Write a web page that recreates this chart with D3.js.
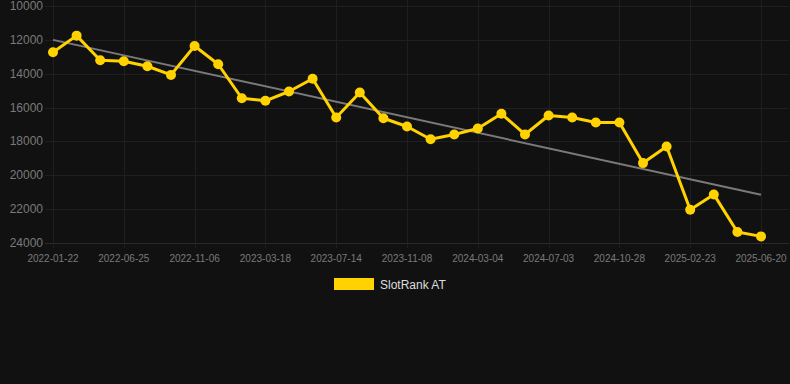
<!DOCTYPE html>
<html>
<head>
<meta charset="utf-8">
<script src="https://cdn.jsdelivr.net/npm/d3@7"></script>
<style>
  html, body { margin: 0; padding: 0; background: #111111; }
  svg { display: block; font-family: "Liberation Sans", Arial, sans-serif; }
</style>
</head>
<body>
<div id="chart"></div>
<script>
// ranks, one every ~6 weeks; only every 3rd date is labelled on the axis
const tickLabels = ['2022-01-22', '2022-06-25', '2022-11-06', '2023-03-18', '2023-07-14',
  '2023-11-08', '2024-03-04', '2024-07-03', '2024-10-28', '2025-02-23', '2025-06-20'];
const rankValues = [12730, 11750, 13200, 13260, 13560, 14070, 12360, 13440, 15450, 15600,
  15050, 14300, 16590, 15110, 16630, 17120, 17870, 17590, 17240, 16370,
  17590, 16470, 16590, 16880, 16880, 19280, 18300, 22040, 21130, 23350, 23610];
const trendValues = [12000, 21150];
const yTicks = [10000, 12000, 14000, 16000, 18000, 20000, 22000, 24000];
const seriesName = 'SlotRank AT';

const width = 790;
const height = 384;
const plot = { left: 45, right: 789, top: 6, bottom: 243 };

const svg = d3.select('#chart')
  .append('svg')
  .attr('width', width)
  .attr('height', height);

svg.append('rect')
  .attr('width', width)
  .attr('height', height)
  .attr('fill', '#111111');

const x = d3.scaleLinear()
  .domain([0, rankValues.length - 1])
  .range([53, 761]);

// rank axis runs downward: best rank on top
const y = d3.scaleLinear()
  .domain([10000, 24000])
  .range([plot.top, plot.bottom]);

const tickIndex = tickLabels.map((d, i) => i * 3);

// grid
svg.append('g')
  .selectAll('line')
  .data(yTicks)
  .enter()
  .append('line')
  .attr('x1', plot.left)
  .attr('x2', plot.right)
  .attr('y1', d => Math.round(y(d)) + 0.5)
  .attr('y2', d => Math.round(y(d)) + 0.5)
  .attr('stroke', d => d === 24000 ? '#2a2a2a' : '#1f1f1f')
  .attr('stroke-width', 1);

svg.append('g')
  .selectAll('line')
  .data(tickIndex)
  .enter()
  .append('line')
  .attr('x1', d => Math.round(x(d)) + 0.5)
  .attr('x2', d => Math.round(x(d)) + 0.5)
  .attr('y1', 0)
  .attr('y2', plot.bottom + 5)
  .attr('stroke', '#1f1f1f')
  .attr('stroke-width', 1);

// y labels
svg.append('g')
  .selectAll('text')
  .data(yTicks)
  .enter()
  .append('text')
  .attr('x', 43)
  .attr('y', d => y(d) + 4)
  .attr('text-anchor', 'end')
  .attr('fill', '#7a7a7a')
  .style('font-size', '12px')
  .text(d => d);

// x labels
svg.append('g')
  .selectAll('text')
  .data(tickLabels)
  .enter()
  .append('text')
  .attr('x', (d, i) => x(tickIndex[i]))
  .attr('y', 262)
  .attr('text-anchor', 'middle')
  .attr('fill', '#7a7a7a')
  .style('font-size', '10px')
  .text(d => d);

// trend line
svg.append('line')
  .attr('x1', x(0))
  .attr('x2', x(rankValues.length - 1))
  .attr('y1', y(trendValues[0]))
  .attr('y2', y(trendValues[1]))
  .attr('stroke', '#7a7a7a')
  .attr('stroke-width', 2);

const line = d3.line()
  .x((d, i) => x(i))
  .y(d => y(d));

svg.append('path')
  .datum(rankValues)
  .attr('d', line)
  .attr('fill', 'none')
  .attr('stroke', '#ffd200')
  .attr('stroke-width', 3)
  .attr('stroke-linejoin', 'round');

svg.append('g')
  .selectAll('circle')
  .data(rankValues)
  .enter()
  .append('circle')
  .attr('cx', (d, i) => x(i))
  .attr('cy', d => y(d))
  .attr('r', 5)
  .attr('fill', '#ffd200');

// legend
const legend = svg.append('g')
  .attr('transform', 'translate(334, 278)');

legend.append('rect')
  .attr('width', 40)
  .attr('height', 12)
  .attr('fill', '#ffd200');

legend.append('text')
  .attr('x', 46)
  .attr('y', 11)
  .attr('fill', '#dddddd')
  .style('font-size', '12px')
  .text(seriesName);
</script>
</body>
</html>
